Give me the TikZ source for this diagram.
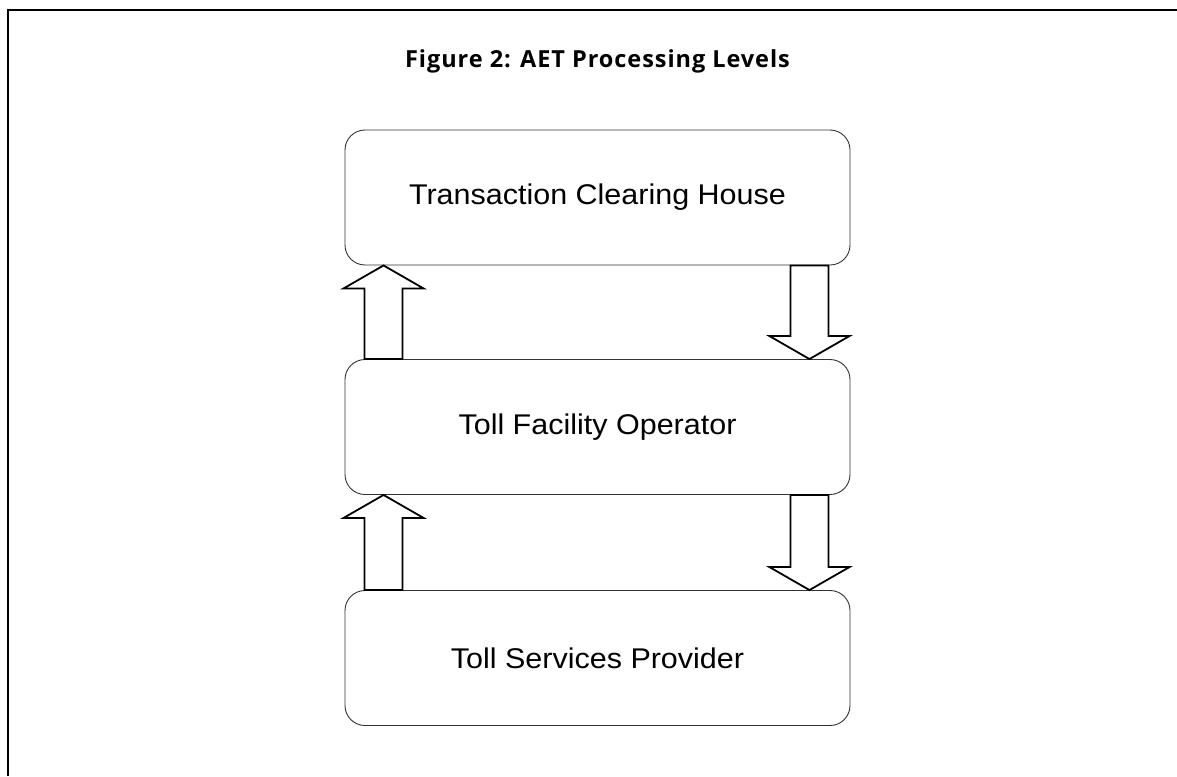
\documentclass[tikz,border=0pt]{standalone}
\usepackage{fontspec}
\setmainfont{Liberation Sans}
\newfontfamily\titlefont[LetterSpace=4]{Open Sans}
\newfontfamily\boxfont[FakeStretch=1.07]{Liberation Sans}
\usetikzlibrary{calc,positioning}

% block arrow from tail to tip (vertical)
\newcommand{\blockarrow}[2]{%
  \draw[blockline] let \p1=(#1), \p2=(#2), \n1={sign(\y2-\y1)} in
    (\x1-19pt,\y1) -- (\x1-19pt,\y2-\n1*23pt) -- (\x1-40pt,\y2-\n1*23pt) -- (\x2,\y2)
    -- (\x1+40pt,\y2-\n1*23pt) -- (\x1+19pt,\y2-\n1*23pt) -- (\x1+19pt,\y1) -- cycle;
}

\begin{document}
\begin{tikzpicture}[x=1pt, y=-1pt,
  level/.style={draw=black!80, line width=0.9pt, rounded corners=20pt,
    minimum width=505pt, minimum height=135pt, font=\boxfont\fontsize{28.5}{34}\selectfont},
  blockline/.style={draw=black, line width=1.8pt, fill=white}]
\useasboundingbox (0,0) rectangle (1177,776);
% frame
\draw[line width=1.8pt] (8,776) -- (8,10) -- (1177,10);
\node[anchor=base, font=\titlefont\bfseries\fontsize{23.5}{28}\selectfont] (title) at (597.5,67.5) {Figure 2: AET Processing Levels};

\node[level] (tch) at (597.5,197.5) {Transaction Clearing House};
\node[level] (tfo) at (597.5,427) {Toll Facility Operator};
\node[level] (tsp) at (597.5,658) {Toll Services Provider};

\coordinate (a1) at ($(tfo.north west)+(39,0)$);
\coordinate (b1) at ($(tch.south west)+(39,0)$);
\coordinate (c1) at ($(tch.south east)+(-41,0)$);
\coordinate (d1) at ($(tfo.north east)+(-41,0)$);
\coordinate (a2) at ($(tsp.north west)+(39,0)$);
\coordinate (b2) at ($(tfo.south west)+(39,0)$);
\coordinate (c2) at ($(tfo.south east)+(-41,0)$);
\coordinate (d2) at ($(tsp.north east)+(-41,0)$);

\blockarrow{a1}{b1}
\blockarrow{c1}{d1}
\blockarrow{a2}{b2}
\blockarrow{c2}{d2}
\end{tikzpicture}
\end{document}
